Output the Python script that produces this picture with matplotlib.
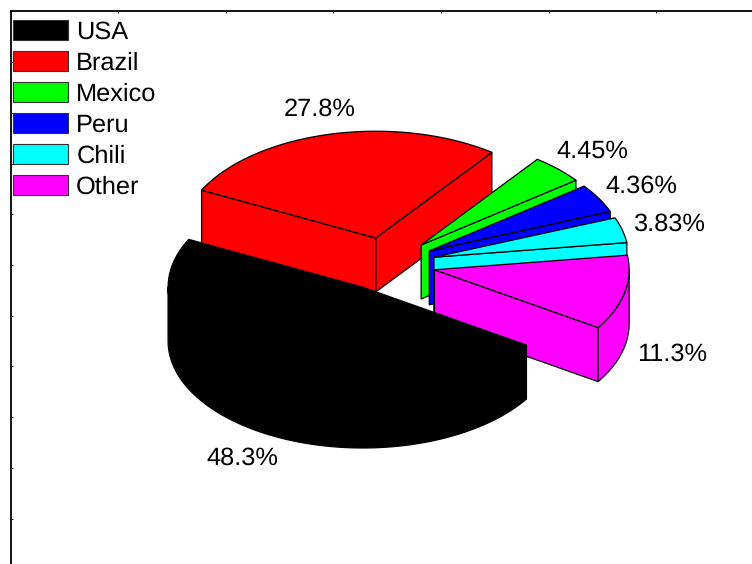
import numpy as np
import matplotlib
matplotlib.use('Agg')
import matplotlib.pyplot as plt
from matplotlib.patches import Patch, Polygon

matplotlib.rcParams['font.family'] = ['Liberation Sans', 'DejaVu Sans']
matplotlib.rcParams['text.hinting'] = 'no_hinting'

# ── data ─────────────────────────────────────────────
countries = ['USA', 'Brazil', 'Mexico', 'Peru', 'Chili', 'Other']
shares = [48.3, 27.8, 4.45, 4.36, 3.83, 11.3]
share_labels = ['48.3%', '27.8%', '4.45%', '4.36%', '3.83%', '11.3%']
colors = ['#000000', '#ff0000', '#00ff00', '#0000ff', '#00ffff', '#ff00ff']

# ── projection of the pie, axes units are pixels ─────
cx, cy = 386.9, 264.0
rx, ry = 194.7, 106.8
depth = 54.0
explode = 0.25
start_angle = 327.2     # USA starts here, slices go clockwise
label_r = 1.25

fig = plt.figure(figsize=(7.52, 5.64), dpi=100)
ax = fig.add_axes([10.5 / 752, 0, 741.5 / 752, 553 / 564])
ax.set_xlim(10.5, 752)
ax.set_ylim(564, 11)

for side in ['right', 'bottom']:
    ax.spines[side].set_visible(False)
for side in ['left', 'top']:
    ax.spines[side].set_linewidth(1.3)
ax.xaxis.tick_top()
ax.set_xticks(10.5 + 107.6 * np.arange(1, 7))
ax.set_yticks(11.5 + 50.7 * np.arange(1, 11))
ax.tick_params(direction='in', length=1.2, width=0.6, labeltop=False, labelleft=False)


def rim(x0, y0, a0, a1, dy=0.0):
    t = np.radians(np.linspace(a0, a1, 80))
    return np.column_stack([x0 + rx * np.cos(t), y0 - ry * np.sin(t) + dy])


def face(pts, color, z):
    ax.add_patch(Polygon(pts, closed=True, facecolor=color, edgecolor='black',
                         linewidth=0.9, zorder=z, joinstyle='round'))


fractions = np.array(shares) / np.sum(shares)
spans = 360 * fractions
highs = start_angle - np.concatenate([[0], np.cumsum(spans)[:-1]])   # USA first
highs = highs % 360

# back to front: USA is in front of everything, Other in front of the small ones
paint_order = [1, 2, 3, 4, 5, 0]
for z, i in enumerate(paint_order):
    col = colors[i]
    hi = highs[i]
    lo = hi - spans[i]
    mid = np.radians((hi + lo) / 2)
    x0 = cx + explode * rx * np.cos(mid)
    y0 = cy - explode * ry * np.sin(mid)
    base = z * 10 + 2

    # radial walls, only the ones turned to the viewer
    for a in (lo, hi):
        visible = np.cos(np.radians(a)) > 0 if a == lo else np.cos(np.radians(a)) < 0
        if visible:
            p = rim(x0, y0, a, a, 0)[0]
            face([(x0, y0), p, (p[0], p[1] + depth), (x0, y0 + depth)], col, base)

    # outer wall where the rim faces down
    for k in range(-1, 2):
        a0 = max(lo, 180 + 360 * k)
        a1 = min(hi, 360 + 360 * k)
        if a1 > a0:
            top = rim(x0, y0, a0, a1)
            bot = rim(x0, y0, a1, a0, depth)
            face(np.vstack([top, bot]), col, base + 1)

    # top
    face(np.vstack([[(x0, y0)], rim(x0, y0, lo, hi)]), col, base + 2)

    # percent label
    lx = x0 + label_r * rx * np.cos(mid)
    ly = y0 - label_r * ry * np.sin(mid) + 1.5
    if np.sin(mid) < 0:
        ly += depth
    ax.text(lx, ly, share_labels[i], fontsize=18.3, ha='center', va='center',
            color='black', zorder=100)

# ── legend ───────────────────────────────────────────
handles = [Patch(facecolor=c, edgecolor='#333333', linewidth=0.8) for c in colors]
ax.legend(handles, countries, loc='upper left', bbox_to_anchor=(2.5 / 741.5, 1 - 9 / 553),
          fontsize=18.3, frameon=False, borderpad=0, borderaxespad=0,
          handlelength=2.17, handleheight=0.85, handletextpad=0.32, labelspacing=0.27)

fig.savefig('out.png', dpi=100)
